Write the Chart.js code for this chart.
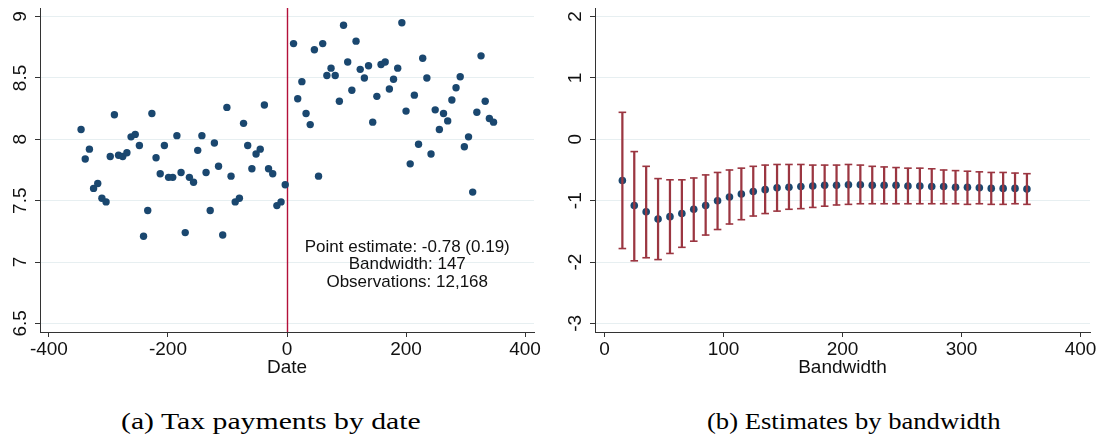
<!DOCTYPE html>
<html>
<head>
<meta charset="utf-8">
<script src="https://cdn.jsdelivr.net/npm/chart.js@4.4.1/dist/chart.umd.min.js"></script>
<style>
  body { margin: 0; background: #fff; width: 1104px; height: 439px; position: relative; overflow: hidden; }
  canvas { position: absolute; top: 0; }
  #leftChart { left: 0; }
  #rightChart { left: 552px; }
  .caption { position: absolute; top: 408px; font-family: "Liberation Serif", serif; font-size: 24px; color: #000; white-space: nowrap; transform-origin: left top; }
</style>
</head>
<body>
<canvas id="leftChart" width="552" height="400"></canvas>
<canvas id="rightChart" width="552" height="400"></canvas>
<div class="caption" id="capA">(a) Tax payments by date</div>
<div class="caption" id="capB">(b) Estimates by bandwidth</div>
<script>
// panel (a): weekly bins, days relative to the cutoff
const datesBefore = [-346, -339, -332, -325, -318, -311, -304, -297, -290, -283, -276, -269, -262, -255, -248, -241, -234,
    -227, -220, -213, -206, -199, -192, -185, -178, -171, -164, -157, -150, -143, -136, -129, -122, -115, -108, -101,
    -94, -87, -80, -73, -66, -59, -52, -45, -38, -31, -24, -17, -10, -3];
const paymentsBefore = [8.08, 7.84, 7.92, 7.60, 7.64, 7.52, 7.49, 7.86, 8.20, 7.87, 7.86, 7.89, 8.02, 8.04, 7.95, 7.21, 7.42,
    8.21, 7.85, 7.72, 7.95, 7.69, 7.69, 8.03, 7.73, 7.24, 7.69, 7.65, 7.91, 8.03, 7.73, 7.42, 7.97, 7.78, 7.22, 8.26,
    7.70, 7.49, 7.52, 8.13, 7.95, 7.76, 7.88, 7.92, 8.28, 7.76, 7.72, 7.46, 7.49, 7.63];
const datesAfter = [11, 18, 25, 32, 39, 46, 53, 60, 67, 74, 81, 88, 95, 102, 109, 116, 123, 130, 137, 144, 151, 158, 165,
    172, 179, 186, 193, 200, 207, 214, 221, 228, 235, 242, 249, 256, 263, 270, 277, 284, 291, 298, 305, 312, 319, 326,
    333, 340, 347];
const paymentsAfter = [8.78, 8.33, 8.47, 8.21, 8.12, 8.73, 7.70, 8.78, 8.52, 8.58, 8.52, 8.31, 8.93, 8.63, 8.40, 8.80, 8.57,
    8.50, 8.60, 8.14, 8.35, 8.61, 8.63, 8.41, 8.49, 8.58, 8.95, 8.23, 7.80, 8.36, 7.96, 8.66, 8.50, 7.88, 8.24, 8.08,
    8.21, 8.15, 8.32, 8.42, 8.51, 7.94, 8.02, 7.57, 8.22, 8.68, 8.31, 8.17, 8.14];
const dateTicks = [-400, -200, 0, 200, 400];
const paymentTicks = [6.5, 7, 7.5, 8, 8.5, 9];
const noteLines = ['Point estimate: -0.78 (0.19)', 'Bandwidth: 147', 'Observations: 12,168'];

// panel (b): estimate and 95% interval for each bandwidth
const bandwidths = [15, 25, 35, 45, 55, 65, 75, 85, 95, 105, 115, 125, 135, 145, 155, 165, 175, 185, 195, 205, 215, 225,
    235, 245, 255, 265, 275, 285, 295, 305, 315, 325, 335, 345, 355];
const estimates = [-0.67, -1.08, -1.18, -1.30, -1.26, -1.21, -1.14, -1.08, -1.00, -0.94, -0.89, -0.85, -0.82, -0.79, -0.78,
    -0.77, -0.76, -0.75, -0.75, -0.74, -0.74, -0.75, -0.75, -0.75, -0.76, -0.76, -0.77, -0.77, -0.78, -0.78, -0.79,
    -0.80, -0.80, -0.80, -0.81];
const ciUpper = [0.44, -0.20, -0.44, -0.64, -0.66, -0.66, -0.63, -0.58, -0.54, -0.50, -0.47, -0.44, -0.42, -0.41, -0.41,
    -0.41, -0.42, -0.42, -0.42, -0.41, -0.42, -0.44, -0.45, -0.46, -0.47, -0.47, -0.48, -0.50, -0.51, -0.52, -0.53,
    -0.54, -0.54, -0.55, -0.56];
const ciLower = [-1.78, -1.98, -1.93, -1.96, -1.86, -1.76, -1.66, -1.56, -1.47, -1.38, -1.31, -1.25, -1.21, -1.17, -1.14,
    -1.13, -1.11, -1.09, -1.07, -1.06, -1.05, -1.05, -1.05, -1.05, -1.05, -1.05, -1.05, -1.05, -1.05, -1.06, -1.05,
    -1.06, -1.06, -1.05, -1.06];
const bandwidthTicks = [0, 100, 200, 300, 400];
const estimateTicks = [-3, -2, -1, 0, 1, 2];

const NAVY = '#1a476f';
const CI_RED = '#9b3641';
const CUTOFF_RED = '#b3103a';
const GRID = '#e7eff1';
const AXIS = '#333';
const TEXT = '#111';
const SANS = '"Liberation Sans", Arial, sans-serif';

function xAxis(min, max, ticks, title) {
    return {
        type: 'linear', min: min, max: max, offset: false,
        afterBuildTicks: s => { s.ticks = ticks.map(v => ({ value: v })); },
        afterFit: s => { s.height = 68; },
        grid: { drawOnChartArea: false, offset: false, tickLength: 5, tickColor: AXIS },
        border: { color: AXIS },
        ticks: { color: TEXT, font: { size: 19, family: SANS }, padding: 1, maxRotation: 0, autoSkip: false, callback: v => String(v) },
        title: { display: true, text: title, color: TEXT, font: { size: 19, family: SANS }, padding: { top: 0, bottom: 21 } }
    };
}

function yAxis(min, max, ticks, width) {
    return {
        type: 'linear', min: min, max: max,
        afterBuildTicks: s => { s.ticks = ticks.map(v => ({ value: v })); },
        afterFit: s => { s.width = width; },
        grid: { color: GRID, tickLength: 5, tickColor: AXIS },
        border: { color: AXIS },
        ticks: { display: false }
    };
}

function points(xs, ys) {
    return xs.map((x, i) => ({ x: x, y: ys[i] }));
}

// y labels in Stata style, turned to read upwards
const rotatedYLabels = {
    id: 'rotatedYLabels',
    afterDraw(chart) {
        const y = chart.scales.y;
        const ctx = chart.ctx;
        ctx.save();
        ctx.fillStyle = TEXT;
        ctx.font = '19px ' + SANS;
        ctx.textAlign = 'center';
        ctx.textBaseline = 'alphabetic';
        y.ticks.forEach(t => {
            ctx.save();
            ctx.translate(chart.chartArea.left - 14, y.getPixelForValue(t.value));
            ctx.rotate(-Math.PI / 2);
            ctx.fillText(String(t.value), 0, 0);
            ctx.restore();
        });
        ctx.restore();
    }
};

const cutoffLine = {
    id: 'cutoffLine',
    beforeDatasetsDraw(chart) {
        const area = chart.chartArea;
        const x = Math.round(chart.scales.x.getPixelForValue(0)) + 0.5;
        const ctx = chart.ctx;
        ctx.save();
        ctx.strokeStyle = CUTOFF_RED;
        ctx.lineWidth = 1.4;
        ctx.beginPath();
        ctx.moveTo(x, area.top);
        ctx.lineTo(x, area.bottom);
        ctx.stroke();
        ctx.restore();
    }
};

const estimateNote = {
    id: 'estimateNote',
    afterDatasetsDraw(chart) {
        const cx = chart.scales.x.getPixelForValue(202);
        const cy = chart.scales.y.getPixelForValue(6.98);
        const ctx = chart.ctx;
        ctx.save();
        ctx.fillStyle = TEXT;
        ctx.font = '17px ' + SANS;
        ctx.textAlign = 'center';
        ctx.textBaseline = 'middle';
        noteLines.forEach((line, i) => ctx.fillText(line, cx, cy + (i - 1) * 17.5));
        ctx.restore();
    }
};

const common = {
    responsive: false,
    animation: false,
    plugins: { legend: { display: false }, tooltip: { enabled: false } }
};

new Chart(document.getElementById('leftChart'), {
    type: 'scatter',
    data: {
        datasets: [{
            data: points(datesBefore, paymentsBefore).concat(points(datesAfter, paymentsAfter)),
            backgroundColor: NAVY, borderWidth: 0, pointRadius: 3.7
        }]
    },
    options: Object.assign({}, common, {
        layout: { padding: { top: 8, right: 18, left: 0, bottom: 0 } },
        scales: {
            x: xAxis(-415, 415, dateTicks, 'Date'),
            y: yAxis(6.43, 9.07, paymentTicks, 40)
        }
    }),
    plugins: [cutoffLine, estimateNote, rotatedYLabels]
});

new Chart(document.getElementById('rightChart'), {
    type: 'scatter',
    data: {
        datasets: [
            {
                type: 'bar',
                data: bandwidths.map((b, i) => ({ x: b, y: [ciLower[i], ciUpper[i]] })),
                backgroundColor: CI_RED, borderWidth: 0, barThickness: 1.6, grouped: false
            },
            {
                data: points(bandwidths, ciUpper),
                pointStyle: 'line', pointRadius: 3.8, borderColor: CI_RED, borderWidth: 1.6
            },
            {
                data: points(bandwidths, ciLower),
                pointStyle: 'line', pointRadius: 3.8, borderColor: CI_RED, borderWidth: 1.6
            },
            {
                data: points(bandwidths, estimates),
                backgroundColor: NAVY, borderWidth: 0, pointRadius: 3.8
            }
        ]
    },
    options: Object.assign({}, common, {
        layout: { padding: { top: 8, right: 14, left: 0, bottom: 0 } },
        scales: {
            x: xAxis(-8, 408, bandwidthTicks, 'Bandwidth'),
            y: yAxis(-3.14, 2.14, estimateTicks, 43)
        }
    }),
    plugins: [rotatedYLabels]
});

// stretch the serif captions to the width of the LaTeX originals
function placeCaption(id, left, width) {
    const el = document.getElementById(id);
    el.style.left = left + 'px';
    el.style.transform = 'scaleX(' + (width / el.offsetWidth) + ')';
}
placeCaption('capA', 121, 300);
placeCaption('capB', 707, 294);
</script>
</body>
</html>
